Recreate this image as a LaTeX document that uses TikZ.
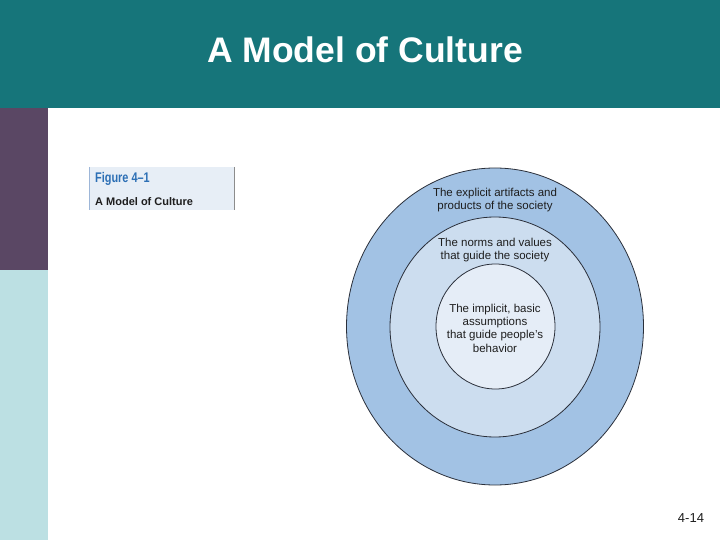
\documentclass[tikz,border=0pt]{standalone}
\usepackage{fontspec}
\setmainfont{Liberation Sans}
\usepackage{tikz}
\usetikzlibrary{positioning}
\definecolor{TitleTeal}{HTML}{16757A}
\definecolor{SidePurple}{HTML}{5A4764}
\definecolor{SideCyan}{HTML}{BCE0E3}
\definecolor{OuterRing}{HTML}{A2C2E4}
\definecolor{MiddleRing}{HTML}{CCDDEF}
\definecolor{InnerCore}{HTML}{E5EDF7}
\definecolor{RingEdge}{HTML}{2A2F3A}
\definecolor{CapFill}{HTML}{E7EEF6}
\definecolor{CapBlue}{HTML}{2C6FB5}
\definecolor{CapLeft}{HTML}{9DB6D8}
\definecolor{CapRight}{HTML}{8C8C8C}
\definecolor{RingText}{HTML}{1E1E1E}

\begin{document}
\begin{tikzpicture}[x=1pt,y=-1pt, every node/.style={inner sep=0pt,text=RingText,font=\fontsize{11.5}{13.3}\selectfont}]
  \useasboundingbox (0,0) rectangle (720,540);
  % slide frame
  \fill[TitleTeal] (0,0) rectangle (720,108);
  \fill[SidePurple] (0,108) rectangle (48,270);
  \fill[SideCyan] (0,270) rectangle (48,540);
  \node[anchor=base,text=white,font=\bfseries\fontsize{35.5}{40}\selectfont] (title) at (365,63) {A Model of Culture};
  % figure caption box
  \fill[CapFill] (89.5,167) rectangle (234.5,210);
  \draw[CapLeft,line width=1pt] (89.5,167)--(89.5,210);
  \draw[CapRight,line width=1.5pt] (234.5,167)--(234.5,210);
  \node[anchor=base west,text=CapBlue,xscale=0.78,font=\bfseries\fontsize{14}{16}\selectfont] (fignum) at (95,183) {Figure 4--1};
  \node[anchor=base west,font=\bfseries\fontsize{11}{13}\selectfont] (figname) at (95,206) {A Model of Culture};
  % the three layers
  \draw[RingEdge,fill=OuterRing,line width=0.8pt] (495,326.5) ellipse [x radius=148.5, y radius=158.5];
  \draw[RingEdge,fill=MiddleRing,line width=0.8pt] (495,327) ellipse [x radius=105, y radius=110];
  \draw[RingEdge,fill=InnerCore,line width=0.8pt] (495.5,326.5) ellipse [x radius=59.5, y radius=62.5];
  \node[align=center] (artifacts) at (495,200) {The explicit artifacts and\\products of the society};
  \node[align=center] (norms) at (495,250) {The norms and values\\that guide the society};
  \node[align=center] (assumptions) at (495,328) {The implicit, basic\\assumptions\\that guide people's\\behavior};
  \node[anchor=base,font=\fontsize{13}{15}\selectfont] (pageno) at (691,522) {4-14};
\end{tikzpicture}
\end{document}
